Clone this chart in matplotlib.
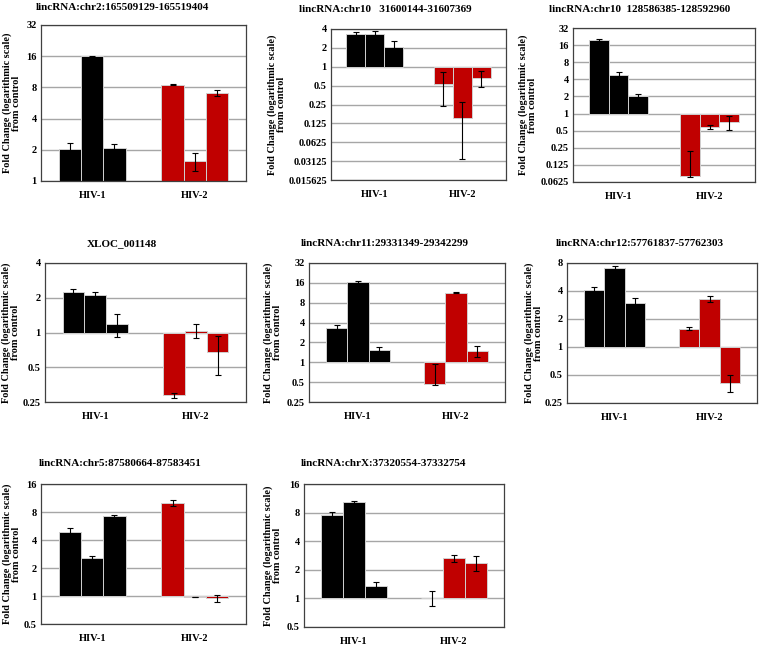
import numpy as np
import matplotlib
matplotlib.use("Agg")
import matplotlib.pyplot as plt

# ---- data (fold change vs control, 3 replicates per group) ----
titles = ["lincRNA:chr2:165509129-165519404", "lincRNA:chr10   31600144-31607369",
          "lincRNA:chr10  128586385-128592960", "XLOC_001148",
          "lincRNA:chr11:29331349-29342299", "lincRNA:chr12:57761837-57762303",
          "lincRNA:chr5:87580664-87583451", "lincRNA:chrX:37320554-37332754"]
groups = ["HIV-1", "HIV-2"]

hiv1_fold = [[2.03, 15.9, 2.1], [3.27, 3.3, 2.03], [19.5, 4.84, 2.04], [2.23, 2.12, 1.18],
             [3.3, 16.5, 1.54], [4.09, 7.1, 2.99], [4.86, 2.58, 7.16], [7.57, 10.4, 1.35]]
hiv1_err = [[0.3, 0.35, 0.17], [0.3, 0.4, 0.55], [0.7, 0.45, 0.2], [0.13, 0.13, 0.26],
            [0.38, 0.4, 0.17], [0.3, 0.35, 0.36], [0.47, 0.12, 0.3], [0.45, 0.25, 0.15]]
hiv2_fold = [[8.5, 1.56, 7.1], [0.536, 0.154, 0.66], [0.081, 0.58, 0.70], [0.285, 1.04, 0.68],
             [0.47, 11.4, 1.49], [1.58, 3.29, 0.415], [10.0, 0.98, 0.944], [1.02, 2.64, 2.38]]
hiv2_err = [[0.15, 0.3, 0.45], [0.3, 0.12, 0.18], [0.14, 0.04, 0.19], [0.015, 0.14, 0.25],
            [0.47, 0.3, 0.27], [0.07, 0.28, 0.09], [0.8, 0.005, 0.08], [0.19, 0.25, 0.43]]

# y-axis range as powers of two (low, high)
y_pow = [(0, 5), (-6, 2), (-4, 5), (-2, 2), (-2, 5), (-2, 3), (-1, 4), (-1, 4)]

# ---- layout in pixels: (left, right, top, bottom) of each plot area ----
W, H = 760, 646
boxes = [(41, 246, 25, 181), (331, 506, 29, 180), (573, 755, 28, 182),
         (45, 246, 263, 402), (309, 505, 263, 402), (567, 757, 263, 403),
         (41, 246, 484, 624), (304, 504, 484, 627)]
title_xy = [(122, 8), (385, 10), (640, 10), (122, 244), (385, 244), (640, 244),
            (120, 464), (384, 464)]
ylab_x = [12, 277, 528, 11, 273, 534, 12, 273]

FONT = "Liberation Serif"
plt.rcParams["font.family"] = FONT
plt.rcParams["font.weight"] = "bold"

fig = plt.figure(figsize=(W / 100, H / 100), dpi=100)
colors = ["#000000", "#C00000"]
bw = 0.217

for k in range(8):
    l, r, t, b = boxes[k]
    ax = fig.add_axes([l / W, 1 - b / H, (r - l) / W, (b - t) / H])
    ax.set_yscale("log", base=2)
    lo, hi = y_pow[k]
    ax.set_ylim(2.0 ** lo, 2.0 ** hi)
    ax.set_xlim(-0.5, 1.5)
    ax.set_axisbelow(True)

    for g, (vals, errs) in enumerate([(hiv1_fold[k], hiv1_err[k]), (hiv2_fold[k], hiv2_err[k])]):
        for i in range(3):
            v, e = vals[i], errs[i]
            x = g + (i - 1) * bw
            ax.bar(x, v - 1, bottom=1, width=bw, color=colors[g],
                   edgecolor="#d0d0d0", linewidth=0.7, zorder=2)
            lower = e if v - e > 0.02 * v else 0.05 * v
            ax.errorbar(x, v, yerr=[[lower], [e]], fmt="none", ecolor="black",
                        elinewidth=0.8, capsize=2, capthick=0.8, zorder=3)

    ticks = [2.0 ** p for p in range(lo, hi + 1)]
    ax.set_yticks(ticks)
    ax.set_yticklabels(["%g" % tv for tv in ticks], fontsize=7.5, fontweight="bold")
    ax.yaxis.set_minor_locator(matplotlib.ticker.NullLocator())
    ax.set_xticks([0, 1])
    ax.set_xticklabels(groups, fontsize=7.5, fontweight="bold")
    ax.tick_params(length=0)
    ax.tick_params(axis="y", pad=3)
    ax.tick_params(axis="x", pad=7)
    ax.grid(axis="y", color="#a6a6a6", linewidth=1.0)
    for s in ax.spines.values():
        s.set_color("#404040")
        s.set_linewidth(0.9)

    tx, ty = title_xy[k]
    fig.text(tx / W, 1 - ty / H, titles[k], ha="center", va="center",
             fontsize=8, fontweight="bold")
    fig.text(ylab_x[k] / W, 1 - ((t + b) / 2) / H,
             "Fold Change (logarithmic scale)\nfrom control", rotation=90,
             ha="center", va="center", fontsize=7.4, fontweight="bold", linespacing=1.0)

fig.savefig("out.png", dpi=100)
